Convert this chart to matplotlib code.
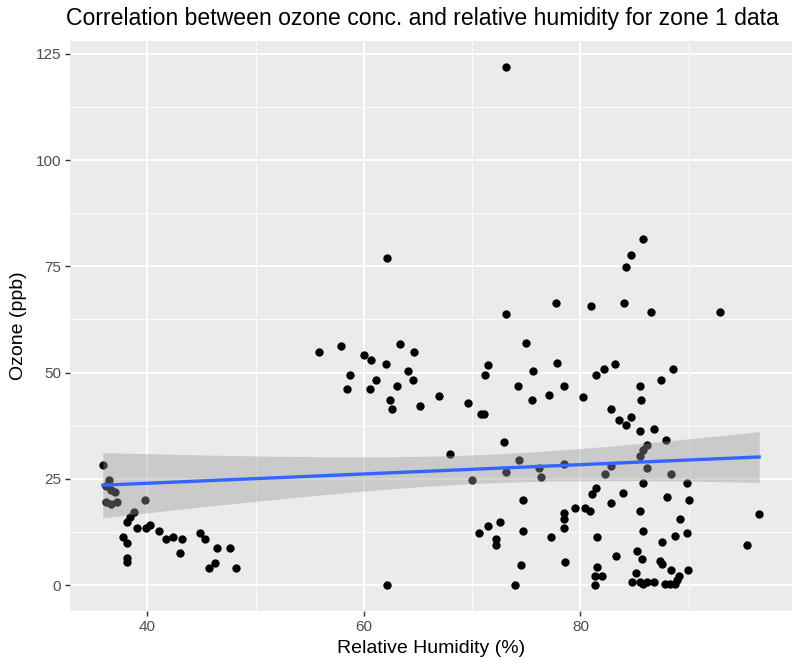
import numpy as np
import matplotlib
matplotlib.use("Agg")
import matplotlib.pyplot as plt
from matplotlib.ticker import MultipleLocator

# zone 1 readings: relative humidity (%) and ozone (ppb)
humidity = [
    35.9, 36.5, 36.2, 36.7, 37.0, 36.2, 36.7, 37.2, 39.8, 38.8, 38.4, 38.1, 39.1, 39.9,
    40.3, 41.1, 41.7, 42.4, 43.2, 37.8, 38.1, 38.1, 38.1, 43.0, 44.9, 45.3, 46.4, 47.6,
    45.7, 46.3, 48.2,
    62.1, 55.9, 57.9, 63.3, 64.6, 60.0, 60.7, 62.0, 58.7, 64.1, 64.5, 61.1, 63.1, 58.4,
    60.6, 66.9, 62.4, 62.6, 65.2, 62.1,
    77.7, 81.0, 73.1, 75.0, 77.8, 71.5, 71.2, 75.6, 81.4, 74.2, 78.5, 77.1, 75.5, 80.2,
    69.6, 70.8, 71.1, 72.9, 68.0, 74.3, 73.1, 76.2, 76.4, 78.5, 70.0, 81.4, 81.1, 74.7,
    79.5, 80.4, 80.9, 78.5, 78.5, 78.5, 72.6, 71.5, 70.6, 74.7, 72.2, 72.2, 77.3, 81.5,
    74.5, 78.6, 74.0, 81.5, 81.3, 81.3, 73.1,
    85.8, 84.7, 84.2, 84.0, 86.5, 92.9, 83.2, 82.2, 88.5, 87.4, 85.5, 85.6, 82.8, 83.6,
    84.7, 84.2, 85.5, 86.8, 87.9, 86.1, 85.8, 85.5, 82.8, 82.3, 86.1, 88.4, 85.8, 89.8,
    83.9, 88.0, 90.0, 82.8, 85.5, 96.5, 89.2, 85.8, 89.8, 88.7, 87.5, 95.4, 83.3, 85.2,
    85.7, 87.3, 87.5, 82.0, 85.1, 88.4, 89.1, 89.9, 88.9, 84.8, 85.5, 85.8, 86.1, 86.8,
    87.8, 88.3, 88.7,
]
ozone = [
    28.3, 24.7, 23.2, 22.4, 22.0, 19.5, 19.1, 19.5, 20.0, 17.1, 16.1, 14.9, 13.4, 13.4,
    14.2, 12.8, 10.8, 11.4, 10.8, 11.4, 10.0, 6.3, 5.5, 7.5, 12.2, 10.8, 8.8, 8.8,
    4.1, 5.3, 4.1,
    76.9, 54.9, 56.2, 56.8, 54.9, 54.2, 52.9, 52.1, 49.5, 50.3, 48.2, 48.3, 46.9, 46.2,
    46.2, 44.6, 43.5, 41.5, 42.2, 0.0,
    66.3, 65.6, 63.7, 57.0, 52.3, 51.7, 49.5, 50.3, 49.5, 46.9, 46.9, 44.8, 43.6, 44.3,
    42.8, 40.3, 40.3, 33.6, 30.9, 29.5, 26.7, 27.5, 25.5, 28.5, 24.8, 22.8, 21.5, 20.0,
    18.1, 18.1, 17.5, 16.9, 15.6, 13.4, 14.8, 14.0, 12.2, 12.8, 10.8, 9.4, 11.4, 11.4,
    4.7, 5.4, 0.0, 4.2, 2.1, 0.0, 121.9,
    81.3, 77.7, 74.9, 66.3, 64.2, 64.2, 52.1, 50.9, 50.9, 48.2, 46.9, 43.5, 41.5, 38.9,
    39.5, 37.6, 36.2, 36.8, 34.2, 32.9, 31.7, 30.3, 28.1, 26.2, 27.5, 26.2, 24.1, 24.1,
    21.6, 20.8, 20.0, 19.4, 17.5, 16.7, 15.5, 12.7, 12.2, 11.6, 10.1, 9.4, 6.8, 8.0,
    6.1, 5.7, 4.9, 2.1, 2.9, 3.5, 2.1, 3.5, 1.2, 0.8, 0.8, 0.2, 0.8, 0.8,
    0.2, 0.2, 0.2,
]

title = "Correlation between ozone conc. and relative humidity for zone 1 data"
x_label = "Relative Humidity (%)"
y_label = "Ozone (ppb)"

plt.rcParams["font.family"] = ["Liberation Sans", "DejaVu Sans"]

x = np.asarray(humidity)
y = np.asarray(ozone)

# linear fit + 95% confidence band, like geom_smooth(method = "lm")
n = len(x)
slope, icpt = np.polyfit(x, y, 1)
resid = y - (slope * x + icpt)
s = np.sqrt((resid ** 2).sum() / (n - 2))
xs = np.linspace(x.min(), x.max(), 80)
fit = slope * xs + icpt
se = s * np.sqrt(1 / n + (xs - x.mean()) ** 2 / ((x - x.mean()) ** 2).sum())
t_crit = 1.973
lo, hi = fit - t_crit * se, fit + t_crit * se

fig = plt.figure(figsize=(8, 6.62), dpi=100)
ax = fig.add_axes([70 / 800, 51 / 662, 722 / 800, 570 / 662])
ax.set_facecolor("#EBEBEB")

ax.scatter(x, y, s=36, c="black", linewidths=0, zorder=3)
ax.fill_between(xs, lo, hi, color="#999999", alpha=0.4, linewidth=0, zorder=4)
ax.plot(xs, fit, color="#3366FF", lw=2.4, zorder=5)

# ggplot-style 5% expansion
xr = x.max() - x.min()
yr = y.max() - y.min()
ax.set_xlim(x.min() - 0.05 * xr, x.max() + 0.05 * xr)
ax.set_ylim(y.min() - 0.05 * yr, y.max() + 0.05 * yr)

ax.xaxis.set_major_locator(MultipleLocator(20))
ax.xaxis.set_minor_locator(MultipleLocator(10))
ax.yaxis.set_major_locator(MultipleLocator(25))
ax.yaxis.set_minor_locator(MultipleLocator(12.5))
ax.grid(which="major", color="white", lw=1.3, zorder=0)
ax.grid(which="minor", color="white", lw=0.6, zorder=0)
ax.set_axisbelow(True)
for sp in ax.spines.values():
    sp.set_visible(False)
ax.tick_params(which="major", length=3.5, width=1.0, color="#333333",
               labelsize=11, labelcolor="#4D4D4D", pad=3)
ax.tick_params(which="minor", length=0)

ax.set_xlabel(x_label, fontsize=14, color="black", labelpad=4)
ax.set_ylabel(y_label, fontsize=14, color="black", labelpad=6)
fig.text(66 / 800, 1 - 18 / 662, title, fontsize=16.6, va="center", ha="left")

fig.savefig("out.png", dpi=100)
